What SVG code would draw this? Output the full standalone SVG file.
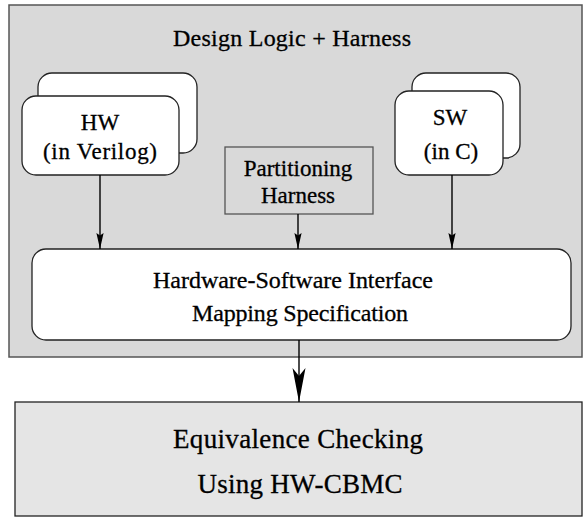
<svg xmlns="http://www.w3.org/2000/svg" width="583" height="517" viewBox="0 0 583 517">
<style>
text{font-family:"Liberation Serif","Times New Roman",Times,serif;fill:#000;stroke:#000;stroke-width:0.3;text-anchor:middle}
.card{fill:#fff;stroke:#222;stroke-width:1.3}
.conn{stroke:#000;stroke-width:1.4;fill:none}
</style>
<defs>
<marker id="ah" markerUnits="userSpaceOnUse" markerWidth="20" markerHeight="10" viewBox="-17 -5 18 10" refX="0" refY="0" orient="auto">
<path d="M0,0 L-16,-3.6 L-13.5,0 L-16,3.6 Z" fill="#000"/>
</marker>
<marker id="ahBig" markerUnits="userSpaceOnUse" markerWidth="36" markerHeight="16" viewBox="-35 -8 36 16" refX="0" refY="0" orient="auto">
<path d="M0,0 L-34,-6.5 L-26,0 L-34,6.5 Z" fill="#000"/>
</marker>
</defs>
<g id="container">
<rect x="9" y="5" width="573" height="352" fill="#d9d9d9" stroke="#555" stroke-width="1.5"/>
<text x="292" y="46" font-size="24" textLength="238">Design Logic + Harness</text>
</g>
<g id="hw">
<rect class="card" x="38" y="73" width="159" height="80" rx="14"/>
<rect class="card" x="22" y="96" width="157" height="79" rx="14"/>
<text x="100" y="130" font-size="23">HW</text>
<text x="100" y="159" font-size="23" textLength="114">(in Verilog)</text>
</g>
<g id="sw">
<rect class="card" x="412" y="73" width="108" height="85" rx="14"/>
<rect class="card" x="395" y="91" width="108" height="84" rx="14"/>
<text x="450" y="125" font-size="23">SW</text>
<text x="451" y="159" font-size="23">(in C)</text>
</g>
<g id="partitioning">
<rect x="225" y="147" width="148" height="67" fill="#d9d9d9" stroke="#555" stroke-width="1.3"/>
<text x="298" y="176" font-size="23">Partitioning</text>
<text x="298" y="203" font-size="23">Harness</text>
</g>
<g id="interface">
<rect x="32" y="249" width="539" height="91" rx="14" fill="#fff" stroke="#222" stroke-width="1.3"/>
<text x="293" y="288" font-size="24" textLength="280">Hardware-Software Interface</text>
<text x="300" y="321" font-size="24" textLength="216">Mapping Specification</text>
</g>
<g id="equivalence">
<rect x="15" y="402" width="567" height="114" fill="#e5e5e5" stroke="#222" stroke-width="1.3"/>
<text x="298" y="448" font-size="27" textLength="250">Equivalence Checking</text>
<text x="300" y="493" font-size="27" textLength="205">Using HW-CBMC</text>
</g>
<g id="connectors">
<line class="conn" x1="100" y1="175" x2="100" y2="249" marker-end="url(#ah)"/>
<line class="conn" x1="298" y1="214" x2="298" y2="249" marker-end="url(#ah)"/>
<line class="conn" x1="452" y1="175" x2="452" y2="249" marker-end="url(#ah)"/>
<line class="conn" x1="299" y1="340" x2="299" y2="402" marker-end="url(#ahBig)"/>
</g>
</svg>
